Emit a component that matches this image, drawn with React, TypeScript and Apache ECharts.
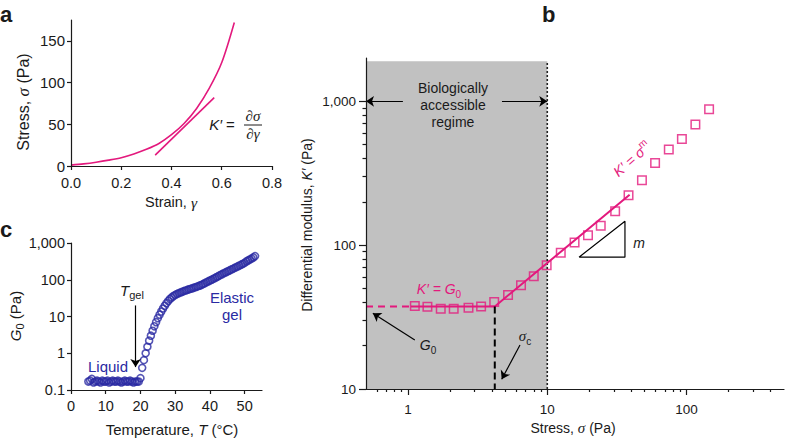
import React, { useEffect, useRef } from "react";
import * as echarts from "echarts";

const PINK = "#E3197D";
const BLUE = "#2A2AA3";
const GREY = "#C1C1C1";
const INK = "#1a1a1a";
const SANS = '"Liberation Sans", Arial, sans-serif';
const SERIF = '"Liberation Serif", "Times New Roman", serif';

// ---------- Panel a : stress vs strain ----------
const strainA = [0, 0.05, 0.1, 0.15, 0.2, 0.25, 0.3, 0.35, 0.4, 0.45, 0.5, 0.55, 0.6, 0.65];
const stressA = [1, 2.5, 4.5, 7, 10, 14.5, 20, 27, 37.5, 51, 69, 93, 124, 172];
const tangentStrain = [0.335, 0.57];
const tangentStress = [13, 82];
const strainTicks = [0, 0.2, 0.4, 0.6, 0.8];
const stressTicks = [0, 50, 100, 150];

// ---------- Panel b : differential modulus vs stress ----------
const stressB = [1.12, 1.38, 1.72, 2.13, 2.72, 3.35, 4.16, 5.23, 6.48, 8.0, 9.9, 12.5, 15.7, 19.6, 24.2, 30.7, 38.3, 47.8, 59.4, 74.5, 92.5, 115.6, 145];
const modulusB = [37.7, 37.3, 36.1, 36.1, 36.7, 37.5, 40.2, 45.0, 52.7, 60.9, 72.6, 88.4, 104.4, 117.3, 136.2, 172, 222, 283, 373, 462, 547, 689, 880];
const plateauDashStress = [0.5, 1.05];
const plateauDashK = [37.5, 37.5];
const fitStress = [1.05, 4.2, 39];
const fitK = [37.5, 37.5, 224];
const sigmaCStress = [4.2, 4.2];
const sigmaCK = [37.5, 10];
const triStress = [16.9, 36.1, 36.1, 16.9];
const triK = [82.5, 82.5, 146.8, 82.5];
const regimeStress = [0.5, 10];
const regimeK = [10, 1900];
const bMajorX = [1, 10, 100];
const bMinorX = [0.6, 0.7, 0.8, 0.9, 2, 3, 4, 5, 6, 7, 8, 9, 20, 30, 40, 50, 60, 70, 80, 90, 200, 300, 400];
const bMajorY = [10, 100, 1000];
const bMinorY = [20, 30, 40, 50, 60, 70, 80, 90, 200, 300, 400, 500, 600, 700, 800, 900];
// annotation arrows [fromX, fromY, toX, toY]
const arrowsB = [
  [0.92, 1000, 0.5, 1000],
  [4.73, 1000, 10, 1000],
  [1.12, 21.9, 0.56, 33.6],
  [6.37, 20.2, 4.71, 11.7],
];

// ---------- Panel c : G0 vs temperature ----------
const tempC = [5, 5.5, 6, 6.5, 7, 7.5, 8, 8.5, 9, 9.5, 10, 10.5, 11, 11.5, 12, 12.5, 13, 13.5, 14, 14.5, 15, 15.5, 16, 16.5, 17, 17.5, 18, 18.5, 19, 19.5,
  20, 20.5, 21, 21.5, 22, 22.5, 23, 23.5, 24, 24.5, 25, 25.5, 26, 26.5, 27, 27.5, 28, 28.5, 29, 29.5,
  30, 30.5, 31, 31.5, 32, 32.5, 33, 33.5, 34, 34.5, 35, 35.5, 36, 36.5, 37, 37.5, 38, 38.5, 39, 39.5,
  40, 40.5, 41, 41.5, 42, 42.5, 43, 43.5, 44, 44.5, 45, 45.5, 46, 46.5, 47, 47.5, 48, 48.5, 49, 49.5,
  50, 50.5, 51, 51.5, 52, 52.5, 53];
const g0C = [0.17, 0.18, 0.2, 0.16, 0.17, 0.18, 0.17, 0.16, 0.18, 0.17, 0.17, 0.18, 0.16, 0.17, 0.18, 0.17, 0.17, 0.18, 0.17, 0.16, 0.17, 0.18, 0.17, 0.17, 0.18, 0.17, 0.16, 0.17, 0.17, 0.17,
  0.21, 0.4, 0.65, 1.0, 1.5, 2.2, 3.0, 4.1, 5.4, 7.0, 9.0, 11.2, 13.6, 16.5, 19.5, 23, 26.5, 30, 33, 36,
  38.5, 41, 43, 45, 47, 49, 51, 53, 55, 57, 59, 61, 63.5, 66, 69, 72, 76, 80, 85, 90,
  95, 100, 106, 112, 119, 126, 134, 142, 150, 158, 167, 176, 186, 196, 207, 218, 230, 243, 257, 272,
  288, 315, 335, 355, 378, 405, 440];
const cTicksX = [0, 10, 20, 30, 40, 50];
const cTicksY = [0.1, 1, 10, 100, 1000];
const arrowC = [18.6, 20, 18.6, 0.42];

const zip = (xs: number[], ys: number[]) => xs.map((x, i) => [x, ys[i]]);

const fmtNum = (v: number) => {
  const r = Math.round(v * 1000) / 1000;
  return r >= 1000 ? String(r).replace(/\B(?=(\d{3})+(?!\d))/g, ",") : String(r);
};

const lineStyleAxis = { color: INK, width: 1.2 };

function xAx(gridIndex: number, extra: any) {
  return {
    gridIndex,
    position: "bottom",
    z: 10,
    splitLine: { show: false },
    axisLine: { show: true, onZero: false, lineStyle: lineStyleAxis },
    ...extra,
  };
}
function yAx(gridIndex: number, extra: any) {
  return {
    gridIndex,
    position: "left",
    z: 10,
    splitLine: { show: false },
    axisLine: { show: true, onZero: false, lineStyle: lineStyleAxis },
    ...extra,
  };
}
const lbl = (custom: number[], margin: number, fmt: any, size = 14) => ({
  customValues: custom,
  margin,
  formatter: fmt,
  fontSize: size,
  color: INK,
  fontFamily: SANS,
});
const tck = (custom: number[], length: number) => ({
  show: true,
  customValues: custom,
  length,
  lineStyle: lineStyleAxis,
});

const richSet = (fill: string, size = 14) => ({
  r: { fill, fontFamily: SANS, fontSize: size, lineHeight: 20 },
  i: { fill, fontFamily: SANS, fontSize: size, fontStyle: "italic", lineHeight: 20 },
  g: { fill, fontFamily: SERIF, fontSize: size + 1, fontStyle: "italic", lineHeight: 20 },
  s: { fill, fontFamily: SANS, fontSize: Math.round(size * 0.72), lineHeight: 12, verticalAlign: "bottom" },
  p: { fill, fontFamily: SANS, fontSize: Math.round(size * 0.72), lineHeight: 12, verticalAlign: "top" },
});

function T(x: number, y: number, text: string, o: any = {}) {
  const fill = o.color || INK;
  const size = o.size || 14;
  const align = o.align || "center";
  return {
    type: "text",
    x,
    y,
    rotation: o.rot || 0,
    silent: true,
    z: 100,
    style: {
      text,
      fill,
      font: `${o.italic ? "italic " : ""}${o.bold ? "bold " : ""}${size}px ${o.family || SANS}`,
      align,
      verticalAlign: "middle",
      textAlign: align,
      textVerticalAlign: "middle",
      lineHeight: 20,
      rich: o.rich ? richSet(fill, size) : undefined,
    },
  };
}

function buildOption() {
  const graphic: any[] = [
    // panel letters
    T(0, 14, "a", { bold: true, size: 22, align: "left" }),
    T(542, 14, "b", { bold: true, size: 22, align: "left" }),
    T(0, 229, "c", { bold: true, size: 22, align: "left" }),
    // panel a titles
    T(23, 102, "{r|Stress, }{g|σ}{r| (Pa)}", { rich: true, rot: Math.PI / 2, size: 16 }),
    T(171, 202, "{r|Strain, }{g|γ}", { rich: true, size: 14.5 }),
    // formula
    T(222, 124, "{i|K′}{r| =}", { rich: true, size: 15 }),
    T(253, 116, "∂σ", { italic: true, size: 15, family: SERIF }),
    T(253, 134, "∂γ", { italic: true, size: 15, family: SERIF }),
    { type: "line", silent: true, z: 100, shape: { x1: 244, y1: 125, x2: 262, y2: 125 }, style: { stroke: INK, lineWidth: 1 } },
    // panel c
    T(15, 316, "{i|G}{s|0}{r| (Pa)}", { rich: true, rot: Math.PI / 2, size: 15 }),
    T(172, 429, "{r|Temperature, }{i|T}{r| (°C)}", { rich: true, size: 15 }),
    T(108, 366, "Liquid", { color: BLUE, size: 15 }),
    T(132, 290, "{i|T}{s|gel}", { rich: true, size: 15 }),
    T(232, 297, "Elastic", { color: BLUE, size: 15 }),
    T(232, 314, "gel", { color: BLUE, size: 15 }),
    // panel b
    T(307, 225, "{r|Differential modulus, }{i|K′}{r| (Pa)}", { rich: true, rot: Math.PI / 2 }),
    T(573, 428, "{r|Stress, }{g|σ}{r| (Pa)}", { rich: true }),
    T(453, 88, "Biologically"),
    T(453, 105, "accessible"),
    T(453, 122, "regime"),
    T(439, 289, "{i|K′ = G}{s|0}", { rich: true, color: PINK }),
    T(428, 345, "{i|G}{s|0}", { rich: true }),
    T(525, 336, "{g|σ}{s|c}", { rich: true }),
    T(639, 243, "m", { italic: true }),
    T(632, 159, "{i|K′ = σ}{p|m}", { rich: true, color: PINK, rot: (41 * Math.PI) / 180 }),
  ];

  const arrowLine = (arr: number[][]) => ({
    silent: true,
    symbol: ["none", "arrow"],
    symbolSize: 8,
    label: { show: false },
    emphasis: { disabled: true },
    lineStyle: { color: "#000", width: 1.2, type: "solid" },
    data: arr.map((a) => [{ coord: [a[0], a[1]] }, { coord: [a[2], a[3]] }]),
  });

  return {
    animation: false,
    backgroundColor: "#fff",
    textStyle: { fontFamily: SANS },
    grid: [
      { left: 71, top: 20, width: 201, height: 146 },
      { left: 71, top: 243, width: 191, height: 147 },
      { left: 366, top: 58, width: 418, height: 331 },
    ],
    xAxis: [
      xAx(0, { type: "value", min: 0, max: 0.8, axisTick: tck(strainTicks, 4), axisLabel: lbl(strainTicks, 9, (v: number) => v.toFixed(1), 14.5) }),
      xAx(1, { type: "value", min: 0, max: 55, axisTick: tck(cTicksX, 4), axisLabel: lbl(cTicksX, 8, (v: number) => String(v), 14.5) }),
      xAx(2, { type: "log", logBase: 10, min: 0.5, max: 500, axisTick: tck(bMajorX, 6), axisLabel: lbl(bMajorX, 13, fmtNum, 13.5) }),
      xAx(2, { type: "log", logBase: 10, min: 0.5, max: 500, axisLine: { show: false }, axisTick: tck(bMinorX, 3), axisLabel: { show: false } }),
    ],
    yAxis: [
      yAx(0, { type: "value", min: 0, max: 175, axisTick: tck(stressTicks, 4), axisLabel: lbl(stressTicks, 6, (v: number) => String(v), 15) }),
      yAx(1, { type: "log", logBase: 10, min: 0.1, max: 1000, axisTick: tck(cTicksY, 4), axisLabel: lbl(cTicksY, 6, fmtNum, 14.5) }),
      yAx(2, { type: "log", logBase: 10, min: 10, max: 2000, axisTick: tck(bMajorY, 7), axisLabel: lbl(bMajorY, 10, fmtNum, 13.5) }),
      yAx(2, { type: "log", logBase: 10, min: 10, max: 2000, axisLine: { show: false }, axisTick: tck(bMinorY, 3.5), axisLabel: { show: false } }),
    ],
    graphic,
    series: [
      // panel a
      { type: "line", xAxisIndex: 0, yAxisIndex: 0, data: zip(strainA, stressA), smooth: 0.3, showSymbol: false, silent: true, lineStyle: { color: PINK, width: 1.6 } },
      { type: "line", xAxisIndex: 0, yAxisIndex: 0, data: zip(tangentStrain, tangentStress), showSymbol: false, silent: true, lineStyle: { color: PINK, width: 1.6 } },
      // panel c
      {
        type: "scatter", xAxisIndex: 1, yAxisIndex: 1, data: zip(tempC, g0C), symbol: "circle", symbolSize: 7, silent: true,
        itemStyle: { color: "rgba(255,255,255,0)", borderColor: BLUE, borderWidth: 1.6 },
        markLine: arrowLine([arrowC]),
      },
      // panel b : grey regime
      {
        type: "line", xAxisIndex: 2, yAxisIndex: 2, data: zip(regimeStress, regimeK), showSymbol: false, silent: true,
        lineStyle: { opacity: 0, width: 0 },
        markArea: { silent: true, itemStyle: { color: GREY }, data: [[{ coord: [regimeStress[0], regimeK[0]] }, { coord: [regimeStress[1], regimeK[1]] }]] },
      },
      // dotted boundary
      { type: "line", xAxisIndex: 2, yAxisIndex: 2, data: zip([regimeStress[1], regimeStress[1]], regimeK), showSymbol: false, silent: true, lineStyle: { color: "#222", width: 1.6, type: [2, 2] } },
      // fits
      { type: "line", xAxisIndex: 2, yAxisIndex: 2, data: zip(plateauDashStress, plateauDashK), showSymbol: false, silent: true, lineStyle: { color: PINK, width: 2, type: [7, 5] } },
      { type: "line", xAxisIndex: 2, yAxisIndex: 2, data: zip(fitStress, fitK), showSymbol: false, silent: true, lineStyle: { color: PINK, width: 2 } },
      { type: "line", xAxisIndex: 2, yAxisIndex: 2, data: zip(sigmaCStress, sigmaCK), showSymbol: false, silent: true, lineStyle: { color: "#000", width: 2, type: [7, 4] } },
      // slope triangle + arrows
      {
        type: "line", xAxisIndex: 2, yAxisIndex: 2, data: zip(triStress, triK), showSymbol: false, silent: true, lineStyle: { color: "#000", width: 1.2 },
        markLine: arrowLine(arrowsB),
      },
      // data squares
      {
        type: "scatter", xAxisIndex: 2, yAxisIndex: 2, data: zip(stressB, modulusB), symbol: "rect", symbolSize: 8.5, silent: true,
        itemStyle: { color: "rgba(0,0,0,0)", borderColor: PINK, borderWidth: 1.5 },
      },
    ],
  };
}

export default function App() {
  const ref = useRef<HTMLDivElement>(null);
  useEffect(() => {
    const chart = echarts.init(ref.current!, null, { renderer: "svg" });
    chart.setOption(buildOption() as any);
    return () => chart.dispose();
  }, []);
  return (
    <div
      ref={ref}
      style={{ position: "fixed", left: 0, top: 0, width: 788, height: 438, background: "#fff" }}
    />
  );
}
